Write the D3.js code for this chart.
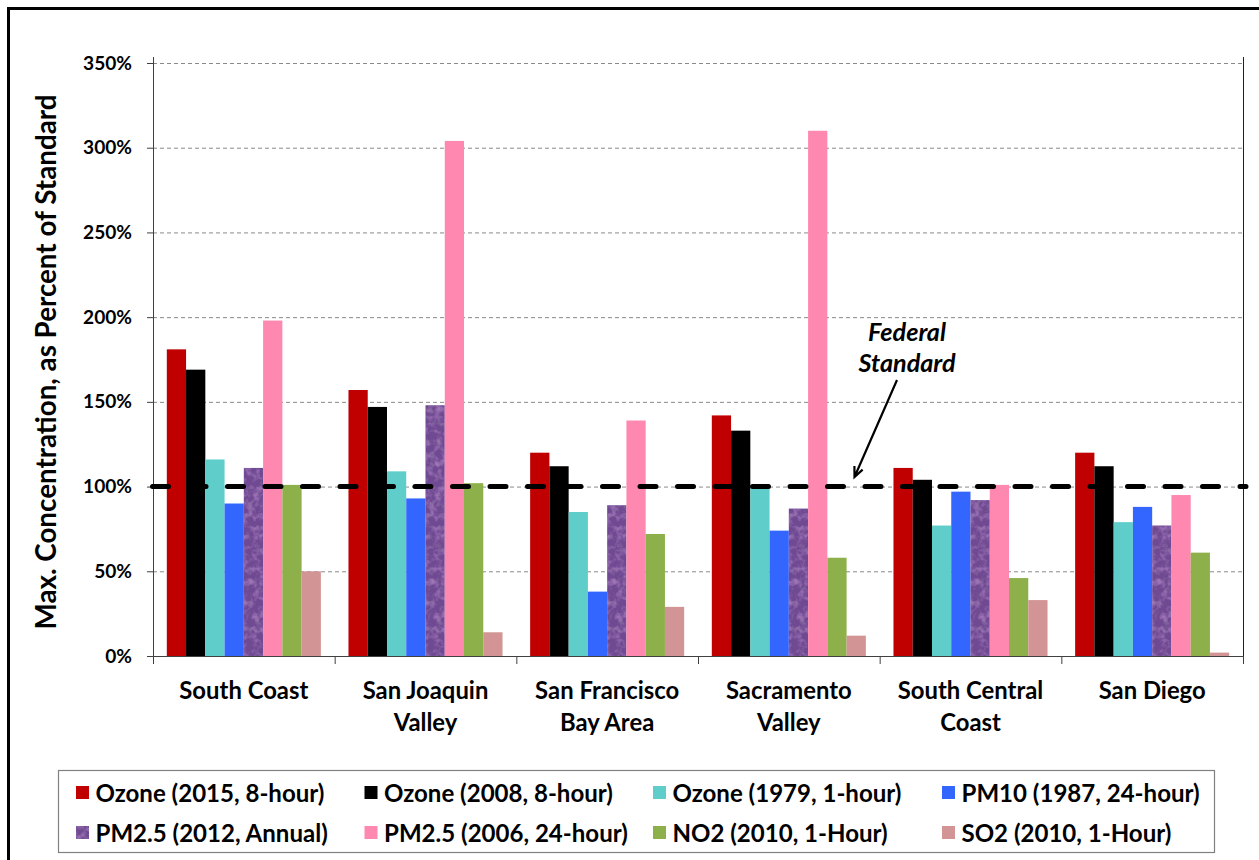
<!DOCTYPE html>
<html>
<head>
<meta charset="utf-8">
<script src="https://cdn.jsdelivr.net/npm/d3@7"></script>
<style>
  html, body { margin: 0; padding: 0; background: #fff; }
  svg { display: block; }
  text { font-family: Lato, "Open Sans", sans-serif; font-weight: 700; fill: #000; }
</style>
</head>
<body>
<svg id="chart" width="1259" height="860"></svg>
<script>
// ---------- DATA ----------
const categories = ["South Coast", "San Joaquin Valley", "San Francisco Bay Area", "Sacramento Valley", "South Central Coast", "San Diego"];
const categoryLabels = [["South Coast"], ["San Joaquin", "Valley"], ["San Francisco", "Bay Area"], ["Sacramento", "Valley"], ["South Central", "Coast"], ["San Diego"]];

const seriesNames = ["Ozone (2015, 8-hour)", "Ozone (2008, 8-hour)", "Ozone (1979, 1-hour)", "PM10 (1987, 24-hour)",
                     "PM2.5 (2012, Annual)", "PM2.5 (2006, 24-hour)", "NO2 (2010, 1-Hour)", "SO2 (2010, 1-Hour)"];
const seriesColors = ["#C00000", "#000000", "#5FCECB", "#3366FF", "#6F4893", "#FF88B0", "#8DB04A", "#D29494"];

const ozone2015   = [181, 157, 120, 142, 111, 120];
const ozone2008   = [169, 147, 112, 133, 104, 112];
const ozone1979   = [116, 109,  85,  99,  77,  79];
const pm10        = [ 90,  93,  38,  74,  97,  88];
const pm25Annual  = [111, 148,  89,  87,  92,  77];
const pm25Daily   = [198, 304, 139, 310, 101,  95];
const no2         = [101, 102,  72,  58,  46,  61];
const so2         = [ 50,  14,  29,  12,  33,   2];
const seriesValues = [ozone2015, ozone2008, ozone1979, pm10, pm25Annual, pm25Daily, no2, so2];

const yTickValues = [0, 50, 100, 150, 200, 250, 300, 350];
const federalStandard = 100;
const yTitle = "Max. Concentration, as Percent of Standard";
const annotationLines = ["Federal", "Standard"];

// ---------- LAYOUT ----------
const svg = d3.select("#chart");
const L = 153, R = 1243, T = 63, B = 656;

function fit(sel, node, target) {
  const w = node.getComputedTextLength();
  const fs = parseFloat(d3.select(node).attr("font-size"));
  sel.attr("font-size", (fs * target / w).toFixed(2));
}

// texture filter for PM2.5 annual bars
const defs = svg.append("defs");
const f = defs.append("filter").attr("id", "tex").attr("x", 0).attr("y", 0).attr("width", 1).attr("height", 1);
f.append("feTurbulence").attr("type", "fractalNoise").attr("baseFrequency", 0.15).attr("numOctaves", 3).attr("seed", 7).attr("result", "n");
f.append("feColorMatrix").attr("in", "n").attr("type", "matrix")
  .attr("values", "0 0 0 0 0.50  0 0 0 0 0.27  0 0 0 0 0.64  1.4 0 0 0 -0.62").attr("result", "c");
f.append("feComposite").attr("in", "c").attr("in2", "SourceGraphic").attr("operator", "in").attr("result", "ci");
f.append("feColorMatrix").attr("in", "n").attr("type", "matrix")
  .attr("values", "0 0 0 0 0.30  0 0 0 0 0.22  0 0 0 0 0.38  0 -1.4 0 0 0.62").attr("result", "d");
f.append("feComposite").attr("in", "d").attr("in2", "SourceGraphic").attr("operator", "in").attr("result", "di");
const fm = f.append("feMerge");
fm.append("feMergeNode").attr("in", "SourceGraphic");
fm.append("feMergeNode").attr("in", "ci");
fm.append("feMergeNode").attr("in", "di");

// outer frame
svg.append("rect").attr("x", 8.5).attr("y", 8.5).attr("width", 1400).attr("height", 1000)
  .attr("fill", "none").attr("stroke", "#000").attr("stroke-width", 3);

// scales
const y = d3.scaleLinear().domain([0, 350]).range([B, T]);
const x0 = d3.scaleBand().domain(categories).range([L, R]).paddingInner(0.152).paddingOuter(0.076);
const x1 = d3.scaleBand().domain(seriesNames).range([0, x0.bandwidth()]);
const xb = d3.scaleLinear().domain([0, categories.length]).range([L, R]);

// gridlines
svg.append("g").selectAll("line").data(yTickValues.filter(d => d > 0)).join("line")
  .attr("x1", L).attr("x2", R).attr("y1", d => y(d) + 0.5).attr("y2", d => y(d) + 0.5)
  .attr("stroke", "#8a8a8a").attr("stroke-width", 1).attr("stroke-dasharray", "4,3");

// bars
const groups = svg.append("g").selectAll("g").data(categories).join("g")
  .attr("transform", d => `translate(${x0(d)},0)`);
groups.selectAll("rect")
  .data((c, ci) => seriesNames.map((s, si) => ({ s, si, v: seriesValues[si][ci] })))
  .join("rect")
  .attr("x", d => x1(d.s)).attr("width", x1.bandwidth())
  .attr("y", d => y(d.v)).attr("height", d => y(0) - y(d.v))
  .attr("fill", d => seriesColors[d.si])
  .attr("filter", d => d.si === 4 ? "url(#tex)" : null);

// y axis
const yAxis = svg.append("g").attr("transform", `translate(${L},0)`)
  .call(d3.axisLeft(y).tickValues(yTickValues).tickSize(6).tickSizeOuter(0).tickPadding(15).tickFormat(d => d + "%"));
yAxis.select(".domain").remove();
yAxis.selectAll(".tick line").attr("stroke", "#404040");
const yt = yAxis.selectAll(".tick text").attr("font-family", "Lato").attr("font-weight", 700).attr("font-size", 16).attr("fill", "#000");
fit(yt, yt.filter(d => d === 350).node(), 49);
svg.append("line").attr("x1", L + 0.5).attr("x2", L + 0.5).attr("y1", 57).attr("y2", 664).attr("stroke", "#404040");
svg.append("line").attr("x1", R + 0.5).attr("x2", R + 0.5).attr("y1", 57).attr("y2", 664).attr("stroke", "#202020");

// x axis
const xAxis = svg.append("g").attr("transform", `translate(0,${B})`)
  .call(d3.axisBottom(xb).tickValues(d3.range(categories.length + 1)).tickSize(8).tickSizeOuter(0).tickFormat(""));
xAxis.select(".domain").attr("stroke", "#404040");
xAxis.selectAll(".tick line").attr("stroke", "#404040");

// x labels
const xl = svg.append("g").selectAll("text").data(categories).join("text")
  .attr("x", d => x0(d) + x0.bandwidth() / 2).attr("y", 699)
  .attr("text-anchor", "middle").attr("font-size", 20);
xl.selectAll("tspan").data((d, i) => categoryLabels[i]).join("tspan")
  .attr("x", function() { return d3.select(this.parentNode).attr("x"); })
  .attr("dy", (d, i) => i === 0 ? 0 : 32).text(d => d);
{
  const t = svg.append("text").attr("font-size", 20).text(categoryLabels[0][0]);
  const w = t.node().getComputedTextLength(); t.remove();
  xl.attr("font-size", (20 * 129 / w).toFixed(2));
}

// y title
const ytl = svg.append("text").attr("transform", "translate(56,362) rotate(-90)")
  .attr("text-anchor", "middle").attr("font-size", 22).text(yTitle);
fit(ytl, ytl.node(), 535);

// federal standard line
svg.append("line").attr("x1", 152.5).attr("x2", 1246).attr("y1", y(federalStandard)).attr("y2", y(federalStandard))
  .attr("stroke", "#000").attr("stroke-width", 5).attr("stroke-linecap", "round").attr("stroke-dasharray", "16,21.5");

// annotation
const ann = svg.append("g").selectAll("text").data(annotationLines).join("text")
  .attr("x", 907).attr("y", (d, i) => 341 + i * 31).attr("text-anchor", "middle")
  .attr("font-style", "italic").attr("font-size", 20).text(d => d);
fit(ann, ann.filter((d, i) => i === 1).node(), 97);
{
  const ax0 = 897, ay0 = 380, ax1 = 854.5, ay1 = 477;
  const ang = Math.atan2(ay1 - ay0, ax1 - ax0), hl = 11, ha = 0.42;
  const p = d3.path();
  p.moveTo(ax0, ay0); p.lineTo(ax1, ay1);
  p.moveTo(ax1 - hl * Math.cos(ang - ha), ay1 - hl * Math.sin(ang - ha)); p.lineTo(ax1, ay1);
  p.lineTo(ax1 - hl * Math.cos(ang + ha), ay1 - hl * Math.sin(ang + ha));
  svg.append("path").attr("d", p.toString()).attr("fill", "none").attr("stroke", "#000").attr("stroke-width", 2.2);
}

// legend
const lg = svg.append("g");
lg.append("rect").attr("x", 58.5).attr("y", 770.5).attr("width", 1156).attr("height", 82)
  .attr("fill", "#fff").attr("stroke", "#808080").attr("stroke-width", 1.2);
const colX = [76, 364.5, 653, 942], rowY = [786, 826];
const items = lg.selectAll("g").data(seriesNames).join("g")
  .attr("transform", (d, i) => `translate(${colX[i % 4]},${rowY[Math.floor(i / 4)]})`);
items.append("rect").attr("width", 13).attr("height", 13).attr("fill", (d, i) => seriesColors[i])
  .attr("filter", (d, i) => i === 4 ? "url(#tex)" : null);
const lt = items.append("text").attr("x", 19.5).attr("y", 6.5).attr("dominant-baseline", "central")
  .attr("font-size", 19).text(d => d);
fit(lt, lt.node(), 229);
</script>
</body>
</html>
